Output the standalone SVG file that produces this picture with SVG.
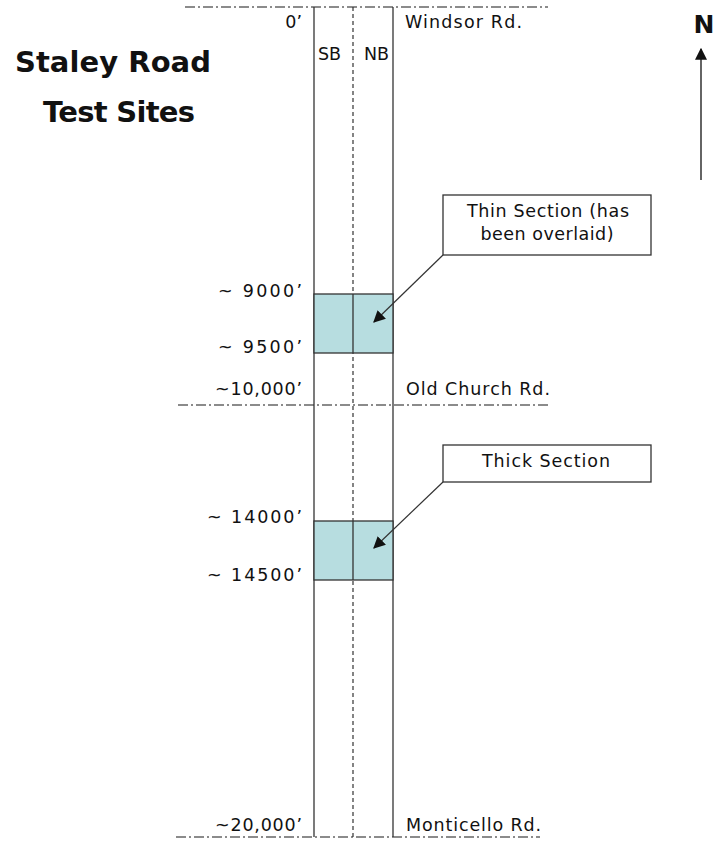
<svg xmlns="http://www.w3.org/2000/svg" width="720" height="845" viewBox="0 0 720 845">
<defs>
<style>
.t{font-family:"DejaVu Sans","Liberation Sans",sans-serif;font-size:17.5px;fill:#111}
.r{text-anchor:end}
.m{text-anchor:middle}
.title{font-family:"DejaVu Sans","Liberation Sans",sans-serif;font-weight:bold;font-size:29px;fill:#111}
.cross{stroke:#666;stroke-width:1.3;stroke-dasharray:10 3 2 3;fill:none}
.edge{stroke:#333;stroke-width:1.3;fill:none}
.center{stroke:#333;stroke-width:1.2;stroke-dasharray:4 3;fill:none}
.site{fill:#b7dde0;stroke:#333;stroke-width:1.3}
.callout{fill:#fff;stroke:#333;stroke-width:1.3}
.lead{stroke:#333;stroke-width:1.2;fill:none}
</style>
<marker id="ah" viewBox="0 0 10 10" refX="9" refY="5" markerWidth="12" markerHeight="12" markerUnits="userSpaceOnUse" orient="auto">
<path d="M0,0 L10,5 L0,10 z" fill="#111"/>
</marker>
</defs>
<rect width="720" height="845" fill="#fff"/>

<g id="title">
<text class="title" x="15" y="72" textLength="196">Staley Road</text>
<text class="title" x="43" y="122" textLength="152">Test Sites</text>
</g>

<g id="north">
<text x="704" y="33" font-family="DejaVu Sans, sans-serif" font-weight="bold" font-size="25" text-anchor="middle" fill="#111">N</text>
<line x1="701" y1="180" x2="701" y2="49" stroke="#111" stroke-width="1.3" marker-end="url(#ah)"/>
</g>

<g id="cross-roads">
<line class="cross" x1="185" y1="7" x2="548" y2="7"/>
<line class="cross" x1="178" y1="405" x2="548" y2="405"/>
<line class="cross" x1="176" y1="837" x2="540" y2="837"/>
</g>

<g id="road">
<line class="edge" x1="314" y1="7" x2="314" y2="837"/>
<line class="edge" x1="393" y1="7" x2="393" y2="837"/>
<line class="center" x1="353" y1="7" x2="353" y2="837"/>
<text class="t" x="318" y="60" font-size="16">SB</text>
<text class="t" x="364" y="60" font-size="16">NB</text>
</g>

<g id="site-thin">
<rect class="site" x="314" y="294" width="79" height="59"/>
<line class="edge" x1="353" y1="294" x2="353" y2="353"/>
</g>

<g id="site-thick">
<rect class="site" x="314" y="521" width="79" height="59"/>
<line class="edge" x1="353" y1="521" x2="353" y2="580"/>
</g>

<g id="callout-thin">
<rect class="callout" x="443" y="195" width="208" height="60"/>
<text class="t m" x="548" y="217" textLength="162">Thin Section (has</text>
<text class="t m" x="547" y="240" textLength="133">been overlaid)</text>
</g>

<g id="callout-thick">
<rect class="callout" x="443" y="445" width="208" height="37"/>
<text class="t m" x="546" y="467" textLength="128">Thick Section</text>
</g>

<g id="connectors">
<line class="lead" x1="443" y1="255" x2="374" y2="322" marker-end="url(#ah)"/>
<line class="lead" x1="443" y1="482" x2="374" y2="548" marker-end="url(#ah)"/>
</g>

<g id="labels">
<text class="t r" x="302" y="28">0’</text>
<text class="t" x="405" y="28" textLength="117">Windsor Rd.</text>
<text class="t r" x="302" y="297" textLength="84">~ 9000’</text>
<text class="t r" x="302" y="353" textLength="84">~ 9500’</text>
<text class="t r" x="302" y="395" textLength="87">~10,000’</text>
<text class="t" x="406" y="395" textLength="144">Old Church Rd.</text>
<text class="t r" x="302" y="523" textLength="95">~ 14000’</text>
<text class="t r" x="302" y="581" textLength="95">~ 14500’</text>
<text class="t r" x="302" y="831" textLength="87">~20,000’</text>
<text class="t" x="406" y="831" textLength="135">Monticello Rd.</text>
</g>
</svg>
